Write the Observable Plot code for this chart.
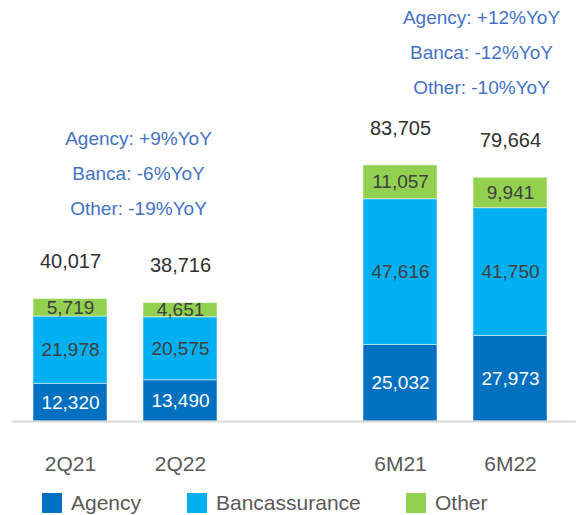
<!DOCTYPE html>
<html>
<head>
<meta charset="utf-8">
<script src="https://cdn.jsdelivr.net/npm/d3@7"></script>
<script src="https://cdn.jsdelivr.net/npm/@observablehq/plot@0.6"></script>
<style>
  body { margin: 0; background: #fff; font-family: "Liberation Sans", Arial, sans-serif; }
  #chart { width: 576px; }
  .legend { position: relative; height: 25px; }
  .item { position: absolute; top: 0; height: 25px; display: flex; align-items: center; gap: 9px; font-size: 21px; color: #595959; white-space: nowrap; }
  .sw { width: 20px; height: 20px; display: inline-block; }
</style>
</head>
<body>
<div id="chart"></div>
<script>
const periods = ["2Q21", "2Q22", "6M21", "6M22"];
const agency = [12320, 13490, 25032, 27973];
const banca = [21978, 20575, 47616, 41750];
const other = [5719, 4651, 11057, 9941];
const totals = [40017, 38716, 83705, 79664];
const series = ["Agency", "Bancassurance", "Other"];
const colors = ["#0070C0", "#00B0F0", "#92D050"];
const yoy2Q = ["Agency: +9%YoY", "Banca: -6%YoY", "Other: -19%YoY"];
const yoy6M = ["Agency: +12%YoY", "Banca: -12%YoY", "Other: -10%YoY"];
const xDomain = ["2Q21", "2Q22", "", "6M21", "6M22"];
const legendLeft = [42, 187, 406];

const rows = [];
periods.forEach((p, i) => {
  rows.push({period: p, series: "Agency", value: agency[i]});
  rows.push({period: p, series: "Bancassurance", value: banca[i]});
  rows.push({period: p, series: "Other", value: other[i]});
});
const totalRows = periods.map((p, i) => ({period: p, total: totals[i]}));
const fmt = d3.format(",");
const font = "Liberation Sans, Arial, sans-serif";
const H = 490;

const plot = Plot.plot({
  width: 576,
  height: H,
  marginLeft: 31.5,
  marginRight: 28.5,
  marginTop: 0,
  marginBottom: H - 421,
  style: {fontFamily: font, background: "white"},
  x: {domain: xDomain, paddingInner: 0.33, paddingOuter: 0, align: 0.5},
  y: {domain: [0, 137600], axis: null},
  color: {domain: series, range: colors},
  marks: [
    Plot.barY(rows, Plot.stackY({x: "period", y: "value", z: "series", fill: "series", order: series, stroke: "white", strokeWidth: 1, strokeOpacity: 0.5})),
    Plot.text(rows, Plot.stackY({x: "period", y: "value", z: "series", order: series,
      text: d => d.series === "Agency" ? fmt(d.value) : null,
      fill: "white", fontSize: 19})),
    Plot.text(rows, Plot.stackY({x: "period", y: "value", z: "series", order: series,
      text: d => d.series !== "Agency" ? fmt(d.value) : null,
      fill: "#404040", fontSize: 19})),
    Plot.text(totalRows, {x: "period", y: "total", text: d => fmt(d.total), dy: -37, fontSize: 20, fill: "#303030"}),
    Plot.text([yoy2Q.join("\n")], {x: () => "2Q22", text: d => d, frameAnchor: "top", dy: 168, dx: -42,
      lineAnchor: "middle", lineHeight: 35 / 19, fontSize: 19, fill: "#4472C4"}),
    Plot.text([yoy6M.join("\n")], {x: () => "6M22", text: d => d, frameAnchor: "top", dy: 47, dx: -29,
      lineAnchor: "middle", lineHeight: 35 / 19, fontSize: 19, fill: "#4472C4"}),
    Plot.ruleY([0], {stroke: "#d9d9d9", strokeWidth: 2, insetLeft: -20, insetRight: -28}),
    Plot.axisX({ticks: periods, tickSize: 0, tickPadding: 35, fontSize: 21, fill: "#595959", label: null})
  ]
});
document.getElementById("chart").appendChild(plot);

const legend = document.createElement("div");
legend.className = "legend";
series.forEach((s, i) => {
  const item = document.createElement("span");
  item.className = "item";
  item.style.left = legendLeft[i] + "px";
  const sw = document.createElement("span");
  sw.className = "sw";
  sw.style.background = colors[i];
  const t = document.createElement("span");
  t.textContent = s;
  item.appendChild(sw);
  item.appendChild(t);
  legend.appendChild(item);
});
document.getElementById("chart").appendChild(legend);
</script>
</body>
</html>
